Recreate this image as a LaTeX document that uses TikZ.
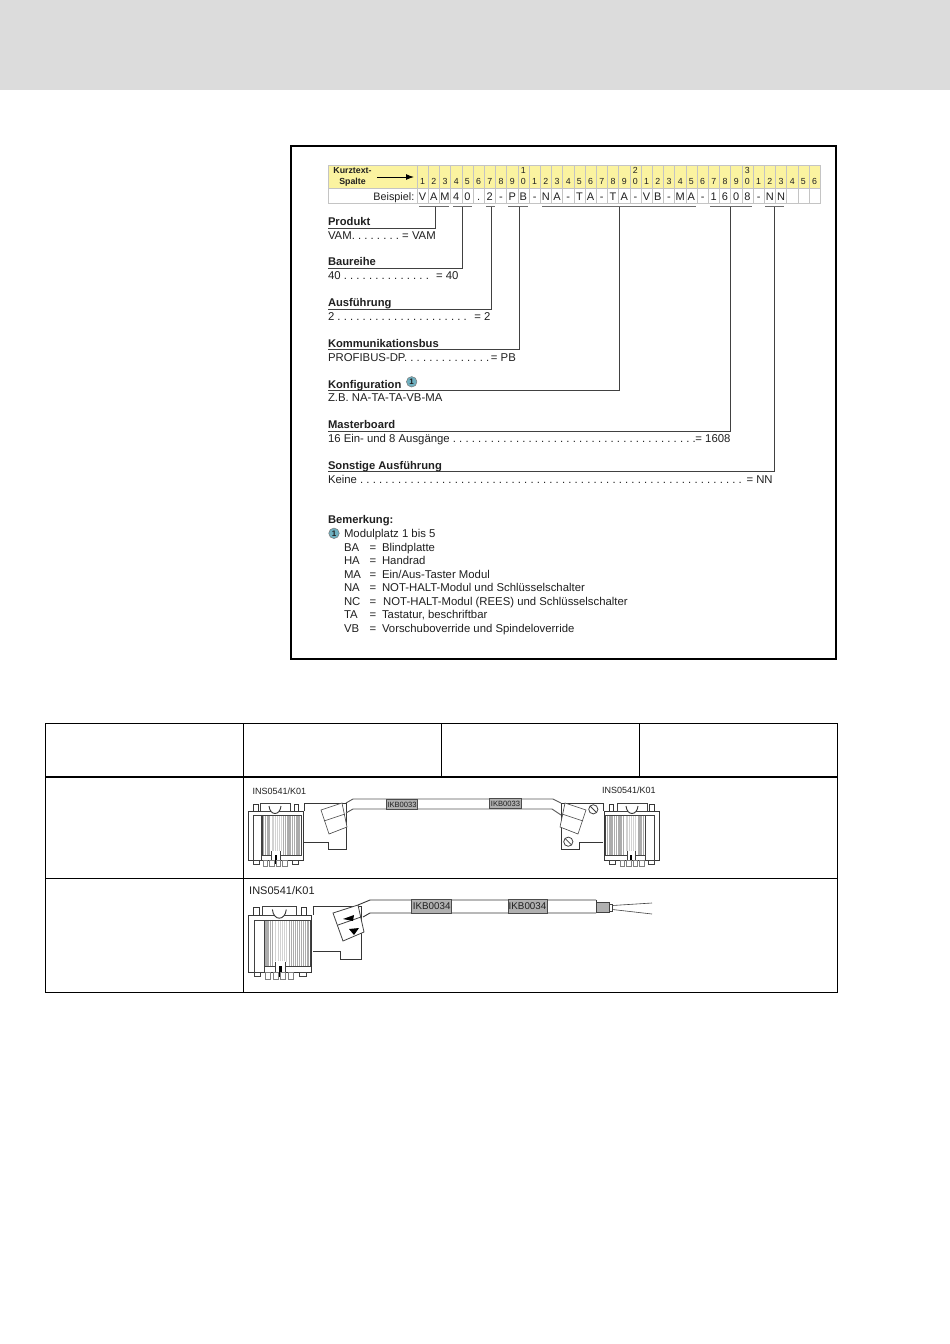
\documentclass[tikz,border=0pt]{standalone}
\usepackage{fontspec}
\setmainfont{Liberation Sans}
\usetikzlibrary{arrows.meta}
\definecolor{band}{HTML}{DCDCDC}
\definecolor{strip}{HTML}{FBF3A0}
\definecolor{gridc}{HTML}{C4C4C4}
\definecolor{ink}{HTML}{202020}
\definecolor{badge}{HTML}{6FB0C0}
\definecolor{tagc}{HTML}{B0B0B0}
\newcommand{\dts}[1]{\foreach \dd in {1,...,#1}{.\ }}
\tikzset{
  txt/.style={inner sep=0pt,outer sep=0pt,text=ink,font=\fontsize{11.35}{13}\selectfont,anchor=base west,yshift=-4pt},
  ttl/.style={txt,yshift=.5pt,font=\fontsize{11.2}{13}\selectfont\bfseries},
  numc/.style={inner sep=0pt,text=ink,anchor=base,font=\fontsize{8.8}{10}\selectfont},
  letc/.style={inner sep=0pt,text=ink,anchor=base,font=\fontsize{11}{12}\selectfont},
  bar/.style={draw=gray!85!black,line width=1.1pt},
  leader/.style={draw=ink!85,line width=.8pt},
  tag/.style={draw=gray!60!black,fill=tagc,line width=.6pt,inner sep=0pt,minimum height=10pt,text=ink,font=\fontsize{7.6}{9}\selectfont},
  tagb/.style={tag,minimum height=13.5pt,font=\fontsize{9.8}{11}\selectfont},
  lab/.style={inner sep=0pt,text=ink,anchor=west,font=\fontsize{9}{10}\selectfont},
  labb/.style={lab,font=\fontsize{11}{12}\selectfont},
  num/.style={circle,draw=ink!60,line width=.5pt,fill=badge,inner sep=0pt,minimum size=10.5pt,text=ink,font=\fontsize{8}{8}\selectfont\bfseries},
  ol/.style={draw=ink!85,line width=.6pt},
  olh/.style={draw=ink!90,line width=.9pt},
  pics/conn/.style={code={
    \draw[olh,fill=white] (56,0) -- (98,0) -- (98,46) -- (80,46) -- (80,39) -- (56,39);
    \draw[olh] (56,0) -- (56,8);
    \draw[olh,fill=white] (0,8) rectangle (55,57);
    \draw[ol] (5,12) rectangle (13.7,57);
    \foreach \sx in {15.5,17.3,...,22}{\draw[gray!65,line width=1.2pt] (\sx,12) -- (\sx,52);}
    \foreach \sx in {24,25.8,...,34}{\draw[gray!35,line width=.8pt] (\sx,12) -- (\sx,48);}
    \foreach \sx in {35.5,37.3,...,53}{\draw[gray!65,line width=1.2pt] (\sx,12) -- (\sx,52);}
    \draw[ol] (14,12) -- (53.5,12) -- (53.5,52) -- (14,52) -- cycle;
    \fill[white] (23.5,47.5) rectangle (32,56.5);
    \draw[ol] (23.5,48) -- (23.5,57) (32,48) -- (32,57);
    \fill[black] (27,52) rectangle (29,61);
    \draw[olh,fill=white] (5,1) rectangle (10,8);
    \draw[olh,fill=white] (46,1) rectangle (50,8);
    \draw[ol,fill=white] (12,.3) rectangle (42,8);
    \draw[olh,fill=white] (21,3) .. controls (22,13) and (32,13) .. (33,3);
    \draw[ol,fill=white] (5,57) rectangle (11,61);
    \draw[ol,fill=white] (44,57) rectangle (50,61);
    \foreach \sx in {15,21.5,28,34.5}{\draw[gray,line width=.5pt,fill=white] (\sx,57) rectangle (\sx+4.5,63);}
  }}
}
\begin{document}
\begin{tikzpicture}[x=1pt,y=-1pt]
\useasboundingbox (0,0) rectangle (950,1344);
\fill[white] (0,0) rectangle (950,1344);
\fill[band] (0,0) rectangle (950,90);
% frame
\draw[black,line width=1.8pt] (291,146) rectangle (836,659);
% code strip
\fill[strip] (328,165.5) rectangle (820.5,188);
\draw[gridc,line width=.5pt] (328,165.5) rectangle (820.5,203.5);
\draw[gridc,line width=.5pt] (328,188) -- (820.5,188);
\foreach \i in {0,...,35}{\draw[gridc,line width=.5pt] ({417+11.2*\i},165.5) -- ({417+11.2*\i},203.5);}
\node[inner sep=0pt,text=ink,anchor=base,font=\fontsize{8.8}{10}\selectfont\bfseries] (hd1) at (352.5,173.3) {Kurztext-};
\node[inner sep=0pt,text=ink,anchor=base,font=\fontsize{8.8}{10}\selectfont\bfseries] (hd2) at (352.5,184) {Spalte};
\coordinate (arA) at (377,177); \coordinate (arB) at (414,177);
\draw[-{Latex[length=8pt,width=6pt]},black,line width=1pt] (arA) -- (arB);
\node[inner sep=0pt,text=ink,anchor=base east,font=\fontsize{10.8}{12}\selectfont] (bsp) at (414.5,200) {Beispiel:};
\foreach \i in {1,...,36}{
  \pgfmathtruncatemacro{\u}{mod(\i,10)}
  \node[numc] (n\i) at ({417+11.2*(\i-.5)},184.3) {\u};
}
\node[numc] (t1) at ({417+11.2*9.5},173.3) {1};
\node[numc] (t2) at ({417+11.2*19.5},173.3) {2};
\node[numc] (t3) at ({417+11.2*29.5},173.3) {3};
\foreach \i/\l in {1/V,2/A,3/M,4/4,5/0,6/.,7/2,8/-,9/P,10/B,11/-,12/N,13/A,14/-,15/T,16/A,17/-,18/T,19/A,20/-,21/V,22/B,23/-,24/M,25/A,26/-,27/1,28/6,29/0,30/8,31/-,32/N,33/N}{
  \node[letc] (c\i) at ({417+11.2*(\i-.5)},200) {\l};
}
% under-bars
\foreach \nm/\a/\b/\lx/\ly in {p/419/449/435/228,b/453/472/462.7/268.5,a/486/495/491/309,k/508/528/519/349.5,f/542/696/619/390,m/710/752/730.5/431,s/765/784/774.5/471.5}{
  \coordinate (\nm A) at (\a,206.5); \coordinate (\nm B) at (\b,206.5);
  \coordinate (\nm T) at (\lx,206.5); \coordinate (\nm C) at (\lx,\ly); \coordinate (\nm E) at (328,\ly);
  \draw[bar] (\nm A) -- (\nm B);
  \draw[leader] (\nm T) -- (\nm C) -- (\nm E);
}
% groups
\node[ttl] (t-prod) at (328,222) {Produkt};
\node[txt] (v-prod) at (328,235) {VAM\dts{8}= VAM};
\node[ttl] (t-bau) at (328,262) {Baureihe};
\node[txt] (v-bau) at (328,275.5) {40 \dts{14}\hspace{4pt}= 40};
\node[ttl] (t-aus) at (328,303) {Ausführung};
\node[txt] (v-aus) at (328,316) {2 \dts{21}\hspace{4.5pt}= 2};
\node[ttl] (t-kom) at (328,343.5) {Kommunikationsbus};
\node[txt] (v-kom) at (328,357) {PROFIBUS-DP\dts{14}\hspace{-1.5pt}= PB};
\node[ttl] (t-kon) at (328,384.5) {Konfiguration};
\node[num] (b1) at (411.7,381.8) {1};
\node[txt] (v-kon) at (328,397.5) {Z.B. NA-TA-TA-VB-MA};
\node[ttl] (t-mas) at (328,425) {Masterboard};
\node[txt] (v-mas) at (328,438.5) {16 Ein- und 8 Ausgänge \dts{39}\hspace{-3.5pt}= 1608};
\node[ttl] (t-son) at (328,465.5) {Sonstige Ausführung};
\node[txt] (v-son) at (328,479) {Keine \dts{61}\hspace{1.5pt}= NN};
% remarks
\node[ttl] (t-bem) at (328,520) {Bemerkung:};
\node[num] (b2) at (334,533.3) {1};
\node[txt] (r0) at (344,533.5) {Modulplatz 1 bis 5};
\foreach \nm/\yy/\cd/\xx/\tx in {a/547/BA/382/{Blindplatte},b/560.5/HA/382/{Handrad},c/574/MA/382/{Ein{/}Aus-Taster Modul},d/587.5/NA/382/{NOT-HALT-Modul und Schlüsselschalter},e/601/NC/383.2/{NOT-HALT-Modul (REES) und Schlüsselschalter},f/614.5/TA/382/{Tastatur, beschriftbar},g/628/VB/382/{Vorschuboverride und Spindeloverride}}{
  \node[txt] (rc\nm) at (344,\yy) {\cd};
  \node[txt] (re\nm) at (369.5,\yy) {=};
  \node[txt] (rt\nm) at (\xx,\yy) {\tx};
}
% table
\draw[black,line width=.9pt] (45.5,723) -- (45.5,992.5) -- (837.5,992.5) -- (837.5,723);
\draw[black,line width=.9pt] (45.5,878.5) -- (837.5,878.5);
\draw[black,line width=.9pt] (243.5,723) -- (243.5,992.5);
\draw[black,line width=.9pt] (441.5,723) -- (441.5,777);
\draw[black,line width=.9pt] (639.5,723) -- (639.5,777);
\draw[black,line width=1.7pt] (45,723.5) -- (838,723.5);
\draw[black,line width=1.7pt] (45,777) -- (838,777);
% row 1 connectors
\pic at (248,803) {conn};
\pic[xscale=-1] at (659,803) {conn};
% left latch
\draw[ol,fill=white] (321,810) -- (342,803) -- (347,827) -- (329,834) -- cycle;
\draw[ol] (324,821) -- (345,814);
% right latch
\draw[ol,fill=white] (586,810) -- (565,803) -- (560,827) -- (578,834) -- cycle;
\draw[ol] (583,821) -- (562,814);
% screws
\foreach \sn/\sx/\sy in {s1/593.3/809.3,s2/568.3/841.7}{
  \coordinate (\sn) at (\sx,\sy);
  \draw[ol,fill=white,line width=.8pt] (\sn) circle (4.6);
  \draw[ol,line width=.8pt] (\sx-3.2,\sy-3.2) -- (\sx+3.2,\sy+3.2);
}
% cable row 1
\draw[olh,draw=gray!70!black] (346,803) -- (353,799) -- (553,799) -- (561,803);
\draw[olh,draw=gray!70!black] (346,813) -- (353,809) -- (552,809) -- (561,815);
\node[tag,minimum width=31pt] (ik1) at (402,804.5) {IKB0033};
\node[tag,minimum width=32pt] (ik2) at (505.5,803.5) {IKB0033};
\node[lab] (in1) at (252.5,791) {INS0541/K01};
\node[lab] (in2) at (602,790) {INS0541/K01};
% row 2
\pic[scale=1.16] at (248,906) {conn};
\draw[ol,fill=white,line width=.8pt] (333,913) -- (358,905) -- (364,932) -- (343,941) -- cycle;
\draw[ol,line width=.8pt] (338,925) -- (361,917);
\fill[black] (343,919) -- (354,915) -- (353,921) -- cycle;
\fill[black] (349,929) -- (359,928) -- (354,935) -- cycle;
\draw[olh] (358,905) -- (370,900) -- (596,900);
\draw[olh] (363,917) -- (370,913) -- (596,913);
\draw[olh] (596,900) -- (596,913);
\node[tagb,minimum width=40pt] (ik3) at (431.7,906.5) {IKB0034};
\node[tagb,minimum width=39pt] (ik4) at (527.5,906.5) {IKB0034};
\draw[ol,fill=tagc] (596,902) rectangle (609,912);
\draw[ol,fill=white] (609,904) rectangle (612.5,911);
\coordinate (w0a) at (612.5,905.5); \coordinate (w1a) at (652,903);
\coordinate (w0b) at (612.5,909.5); \coordinate (w1b) at (652,914);
\draw[ol] (w0a) -- (w1a);
\draw[ol] (w0b) -- (w1b);
\node[labb] (in3) at (249,891) {INS0541/K01};
\end{tikzpicture}
\end{document}
